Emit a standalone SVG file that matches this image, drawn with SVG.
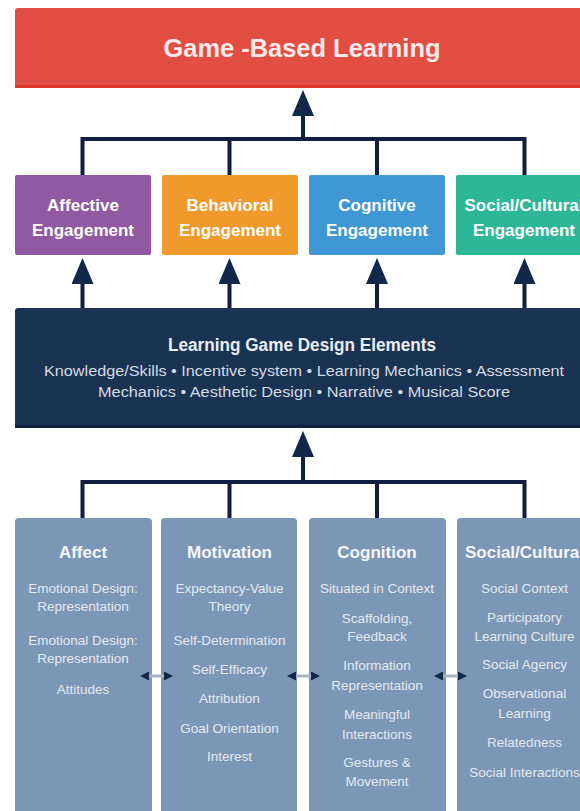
<svg xmlns="http://www.w3.org/2000/svg" width="580" height="811" viewBox="0 0 580 811">
<defs>
<marker id="ah" viewBox="0 0 26 22" refX="0" refY="11" markerWidth="26" markerHeight="22" markerUnits="userSpaceOnUse" orient="auto">
<path d="M0,0 L26,11 L0,22 Z" fill="#12284a"/>
</marker>
<marker id="sh" viewBox="0 0 10 10" refX="0" refY="5" markerWidth="9" markerHeight="9" markerUnits="userSpaceOnUse" orient="auto-start-reverse">
<path d="M0,0 L10,5 L0,10 Z" fill="#12284a"/>
</marker>
<style>
.ln{fill:none;stroke:#0f1f3d;stroke-width:4}
.dl{fill:none;stroke:#a9b4c2;stroke-width:3}
text{font-family:"Liberation Sans",Arial,sans-serif;text-anchor:middle}
.ttl{font-size:26px;font-weight:bold;fill:#fbeae8}
.eng{font-size:17px;font-weight:bold;fill:#ffffff}
.dh{font-size:18px;font-weight:bold;fill:#e9eef4}
.ds{font-size:14.5px;fill:#d3dbe5}
.ch{font-size:17px;font-weight:bold;fill:#f4f7fa}
.ci{font-size:13.5px;fill:#e3e9f0}
</style>
</defs>
<rect width="580" height="811" fill="#ffffff"/>

<g id="game-based-learning">
<rect x="15" y="8" width="600" height="80" rx="3" fill="#e34e44"/>
<rect x="15" y="85" width="600" height="3" fill="#de3a2e"/>
<text class="ttl" x="302" y="57" textLength="277" lengthAdjust="spacingAndGlyphs">Game -Based Learning</text>
</g>

<g id="affective-engagement">
<rect x="15" y="175" width="136" height="80" rx="2" fill="#9159a1"/>
<text class="eng" x="83" y="211">Affective</text>
<text class="eng" x="83" y="236">Engagement</text>
</g>
<g id="behavioral-engagement">
<rect x="162" y="175" width="136" height="80" rx="2" fill="#f09a2d"/>
<text class="eng" x="230" y="211">Behavioral</text>
<text class="eng" x="230" y="236">Engagement</text>
</g>
<g id="cognitive-engagement">
<rect x="309" y="175" width="136" height="80" rx="2" fill="#3f97d4"/>
<text class="eng" x="377" y="211">Cognitive</text>
<text class="eng" x="377" y="236">Engagement</text>
</g>
<g id="social-cultural-engagement">
<rect x="456" y="175" width="136" height="80" rx="2" fill="#2db797"/>
<text class="eng" x="524" y="211">Social/Cultural</text>
<text class="eng" x="524" y="236">Engagement</text>
</g>

<g id="design-elements">
<rect x="15" y="308" width="600" height="120" rx="3" fill="#1b3352"/>
<rect x="15" y="425" width="600" height="3" fill="#0f2240"/>
<text class="dh" x="302" y="351" textLength="268" lengthAdjust="spacingAndGlyphs">Learning Game Design Elements</text>
<text class="ds" x="304" y="376" textLength="520" lengthAdjust="spacingAndGlyphs">Knowledge/Skills • Incentive system • Learning Mechanics • Assessment</text>
<text class="ds" x="304" y="397" textLength="412" lengthAdjust="spacingAndGlyphs">Mechanics • Aesthetic Design • Narrative • Musical Score</text>
</g>

<g id="affect">
<rect x="15" y="518" width="137" height="310" rx="4" fill="#7c97b5"/>
<text class="ch" x="83" y="558">Affect</text>
<text class="ci" x="83" y="593">Emotional Design:</text>
<text class="ci" x="83" y="611">Representation</text>
<text class="ci" x="83" y="645">Emotional Design:</text>
<text class="ci" x="83" y="663">Representation</text>
<text class="ci" x="83" y="694">Attitudes</text>
</g>
<g id="motivation">
<rect x="161" y="518" width="136" height="310" rx="4" fill="#7c97b5"/>
<text class="ch" x="229.5" y="558">Motivation</text>
<text class="ci" x="229.5" y="593">Expectancy-Value</text>
<text class="ci" x="229.5" y="611">Theory</text>
<text class="ci" x="229.5" y="645">Self-Determination</text>
<text class="ci" x="229.5" y="674">Self-Efficacy</text>
<text class="ci" x="229.5" y="703">Attribution</text>
<text class="ci" x="229.5" y="733">Goal Orientation</text>
<text class="ci" x="229.5" y="761">Interest</text>
</g>
<g id="cognition">
<rect x="309" y="518" width="137" height="310" rx="4" fill="#7c97b5"/>
<text class="ch" x="377" y="558">Cognition</text>
<text class="ci" x="377" y="593">Situated in Context</text>
<text class="ci" x="377" y="623">Scaffolding,</text>
<text class="ci" x="377" y="641">Feedback</text>
<text class="ci" x="377" y="670">Information</text>
<text class="ci" x="377" y="690">Representation</text>
<text class="ci" x="377" y="719">Meaningful</text>
<text class="ci" x="377" y="739">Interactions</text>
<text class="ci" x="377" y="767">Gestures &amp;</text>
<text class="ci" x="377" y="786">Movement</text>
</g>
<g id="social-cultural">
<rect x="457" y="518" width="137" height="310" rx="4" fill="#7c97b5"/>
<text class="ch" x="524.5" y="558">Social/Cultural</text>
<text class="ci" x="524.5" y="593">Social Context</text>
<text class="ci" x="524.5" y="622">Participatory</text>
<text class="ci" x="524.5" y="641">Learning Culture</text>
<text class="ci" x="524.5" y="669">Social Agency</text>
<text class="ci" x="524.5" y="698">Observational</text>
<text class="ci" x="524.5" y="718">Learning</text>
<text class="ci" x="524.5" y="747">Relatedness</text>
<text class="ci" x="524.5" y="777">Social Interactions</text>
</g>

<g id="connectors">
<path class="ln" d="M303,139 V116" marker-end="url(#ah)"/>
<path class="ln" d="M82.5,175 V139 H524.5 V175 M229.5,139 V175 M377,139 V175"/>
<path class="ln" d="M82.5,308 V284" marker-end="url(#ah)"/>
<path class="ln" d="M229.5,308 V284" marker-end="url(#ah)"/>
<path class="ln" d="M377,308 V284" marker-end="url(#ah)"/>
<path class="ln" d="M524.5,308 V284" marker-end="url(#ah)"/>
<path class="ln" d="M303,482 V457" marker-end="url(#ah)"/>
<path class="ln" d="M82.5,518 V482 H524.5 V518 M229.5,482 V518 M377,482 V518"/>
<path class="dl" d="M149,676 H164" marker-start="url(#sh)" marker-end="url(#sh)"/>
<path class="dl" d="M296,676 H311" marker-start="url(#sh)" marker-end="url(#sh)"/>
<path class="dl" d="M443,676 H458" marker-start="url(#sh)" marker-end="url(#sh)"/>
</g>
</svg>
